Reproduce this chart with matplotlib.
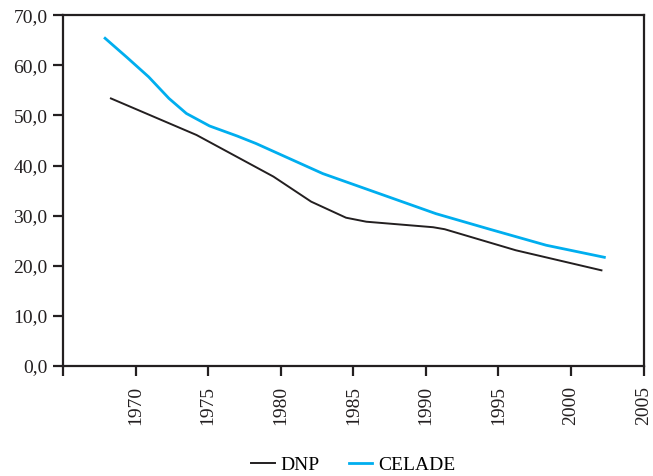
import matplotlib
matplotlib.use('Agg')
import matplotlib.pyplot as plt

matplotlib.rcParams.update({'font.family': ['Liberation Serif', 'DejaVu Serif'], 'font.size': 14})

# DNP series
dnp_years = [1968.3, 1974.2, 1979.5, 1982.1, 1984.5, 1985.9, 1990.5, 1991.3, 1996.2, 2002.1]
dnp_vals = [53.4, 46.1, 37.8, 32.8, 29.6, 28.8, 27.7, 27.3, 23.1, 19.1]

# CELADE series
celade_years = [1967.9, 1969.4, 1970.9, 1972.3, 1973.5, 1975.1, 1977.0, 1978.3,
                1980.6, 1982.9, 1986.8, 1990.7, 1994.4, 1998.3, 2002.3]
celade_vals = [65.4, 61.6, 57.7, 53.4, 50.4, 47.9, 45.9, 44.4,
               41.4, 38.4, 34.4, 30.4, 27.3, 24.1, 21.7]

year_ticks = [1965, 1970, 1975, 1980, 1985, 1990, 1995, 2000, 2005]
y_ticks = [0, 10, 20, 30, 40, 50, 60, 70]

fig = plt.figure(figsize=(6.53, 4.76), dpi=100)
ax = fig.add_axes([0.0965, 0.231, 0.889, 0.737])

ax.plot(dnp_years, dnp_vals, color='#231f20', lw=1.4, label='DNP')
ax.plot(celade_years, celade_vals, color='#00aeef', lw=2.0, label='CELADE')

ax.set_xlim(1965, 2005)
ax.set_ylim(0, 70)
ax.set_xticks(year_ticks)
ax.set_xticklabels([''] + [str(y) for y in year_ticks[1:]], rotation=90)
ax.set_yticks(y_ticks)
ax.set_yticklabels([('%.1f' % v).replace('.', ',') for v in y_ticks])

for s in ax.spines.values():
    s.set_linewidth(1.6)
    s.set_color('#231f20')
ax.tick_params(direction='out', length=7.2, width=1.6, color='#231f20',
               labelcolor='#231f20', labelsize=14)
ax.tick_params(axis='x', pad=7)
ax.tick_params(axis='y', pad=4)

ax.legend(loc='center', bbox_to_anchor=(0.5, -0.282), ncol=2, frameon=False,
          handlelength=1.2, handletextpad=0.3, columnspacing=1.5, fontsize=14,
          borderpad=0, borderaxespad=0)

plt.savefig('out.png', dpi=100)
